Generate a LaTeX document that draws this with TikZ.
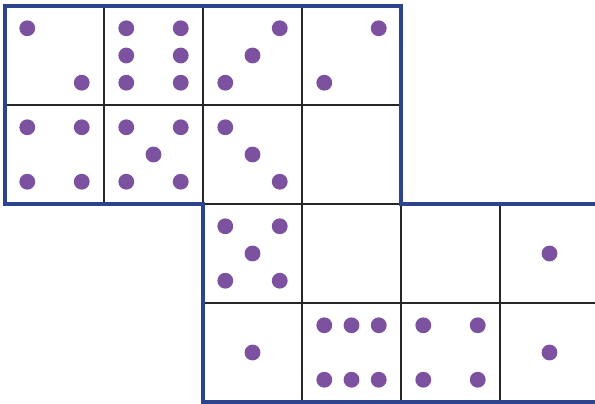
\documentclass[tikz,border=0pt]{standalone}
\usepackage{tikz}
\definecolor{frameblue}{RGB}{44,68,142}
\definecolor{pippurple}{RGB}{124,82,160}

\begin{document}
\begin{tikzpicture}[
    x=1cm, y=1cm,
    frame/.style={draw=frameblue, line width=1pt, line join=miter},
    cellline/.style={draw=black!85, line width=0.45pt},
    pip/.style={fill=pippurple}
]
\useasboundingbox (-0.0505,-0.0101) rectangle (5.9596,4.0606);
\def\lo{0.225}
\def\mi{0.5}
\def\hi{0.775}
% inner cell lines
\draw[cellline] (0,3) -- (4,3);
\draw[cellline] (2,2) -- (4,2);
\draw[cellline] (2,1) -- (6,1);
\foreach \x in {1,2,3} \draw[cellline] (\x,2) -- (\x,4);
\foreach \x in {3,4,5} \draw[cellline] (\x,0) -- (\x,2);
% pips: cell x / cell y / offset x / offset y
\foreach \cx/\cy/\px/\py in {
    0/3/\lo/\hi, 0/3/\hi/\lo,
    1/3/\lo/\lo, 1/3/\lo/\mi, 1/3/\lo/\hi, 1/3/\hi/\lo, 1/3/\hi/\mi, 1/3/\hi/\hi,
    2/3/\lo/\lo, 2/3/\mi/\mi, 2/3/\hi/\hi,
    3/3/\hi/\hi, 3/3/\lo/\lo,
    0/2/\lo/\lo, 0/2/\lo/\hi, 0/2/\hi/\lo, 0/2/\hi/\hi,
    1/2/\lo/\lo, 1/2/\lo/\hi, 1/2/\hi/\lo, 1/2/\hi/\hi, 1/2/\mi/\mi,
    2/2/\lo/\hi, 2/2/\mi/\mi, 2/2/\hi/\lo,
    2/1/\lo/\lo, 2/1/\lo/\hi, 2/1/\hi/\lo, 2/1/\hi/\hi, 2/1/\mi/\mi,
    5/1/\mi/\mi,
    2/0/\mi/\mi,
    3/0/\lo/\lo, 3/0/\mi/\lo, 3/0/\hi/\lo, 3/0/\lo/\hi, 3/0/\mi/\hi, 3/0/\hi/\hi,
    4/0/\lo/\lo, 4/0/\lo/\hi, 4/0/\hi/\lo, 4/0/\hi/\hi,
    5/0/\mi/\mi}
    \fill[pip] (\cx+\px,\cy+\py) circle (0.08);
% outline of the net
\draw[frame] (0,4) -- (4,4) -- (4,2) -- (6,2) -- (6,0) -- (2,0) -- (2,2) -- (0,2) -- cycle;
\end{tikzpicture}
\end{document}
